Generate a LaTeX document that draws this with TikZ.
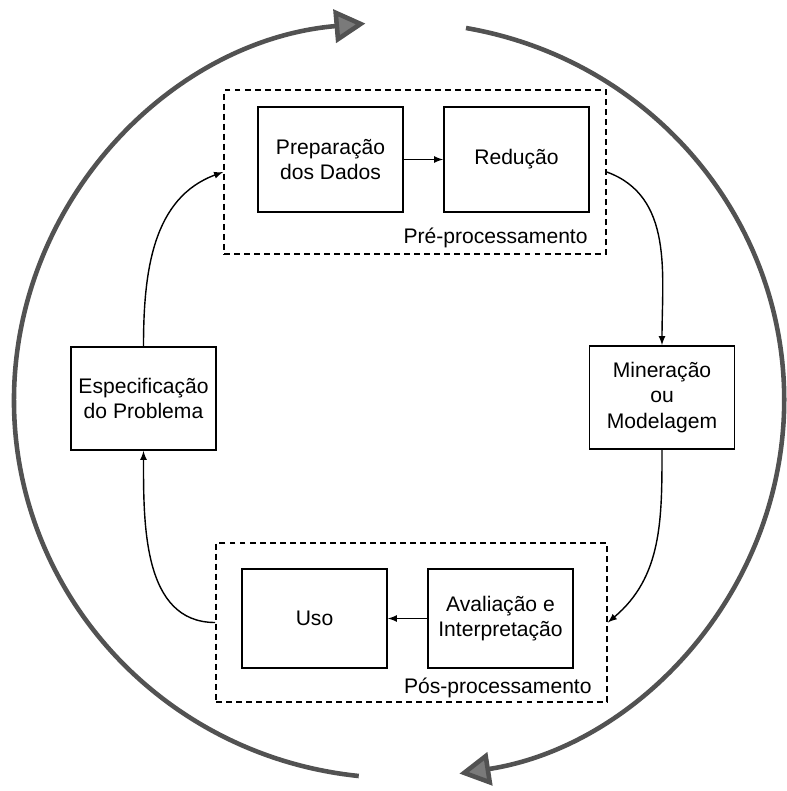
\documentclass[tikz,border=0pt]{standalone}
\usepackage{fontspec}
\setmainfont{Liberation Sans}
\usetikzlibrary{
    arrows,
    arrows.meta,
    positioning
}

\begin{document}
\begin{tikzpicture}[
    etapa/.style={draw, line width=0.95pt, minimum width=2.9cm, minimum height=2.06cm, align=center, font=\fontsize{12}{14.5}\selectfont},
    fase/.style={draw, dash pattern=on 3.4pt off 2.3pt, line width=0.9pt},
    rotulo/.style={font=\fontsize{12}{14.5}\selectfont, anchor=base east},
    ciclo/.style={draw=black!68, line width=2.6pt, -{Triangle[length=0.62cm, width=0.66cm, fill=black!52]}}
]
    \useasboundingbox (0, 0) rectangle (15.72, -15.82);
    % grandes setas do ciclo
    \coordinate (basel) at (7.175, -15.52);
    \coordinate (topor) at (9.32, -0.56);
    \draw[ciclo] (basel) arc[start angle=264, end angle=95, x radius=7.7cm, y radius=7.56cm];
    \draw[ciclo] (topor) arc[start angle=80, end angle=-81, x radius=7.7cm, y radius=7.56cm];
    % pre-processamento
    \node[fase, minimum width=7.64cm, minimum height=3.28cm] (pre) at (8.30, -3.44) {};
    \node[etapa, minimum height=2.1cm] (prep) at (6.61, -3.19) {Preparação\\dos Dados};
    \node[etapa, minimum height=2.1cm] (red) at (10.33, -3.19) {Redução};
    \node[rotulo] (prelbl) at ([xshift=-0.26cm, yshift=0.22cm] pre.south east) {Pré-processamento};
    % laterais
    \node[etapa] (min) at (13.24, -7.95) {Mineração\\ou\\Modelagem};
    \node[etapa] (esp) at (2.87, -7.97) {Especificação\\do Problema};
    % pos-processamento
    \node[fase, minimum width=7.82cm, minimum height=3.18cm] (pos) at (8.23, -12.45) {};
    \node[etapa, minimum height=1.98cm] (uso) at (6.29, -12.37) {Uso};
    \node[etapa, minimum height=1.98cm] (ava) at (10.01, -12.37) {Avaliação e\\Interpretação};
    \node[rotulo] (poslbl) at ([xshift=-0.2cm, yshift=0.18cm] pos.south east) {Pós-processamento};
    \draw[line width=0.8pt]
    (prep) edge[-latex] (red)
    (ava) edge[-latex] (uso)
    (pre.east) edge[-latex, out=-20, in=90] (min.north)
    (min.south) edge[-latex, out=-90, in=40] (pos.east)
    (pos.west) edge[-latex, out=180, in=-90] (esp.south)
    (esp.north) edge[-latex, out=90, in=200] (pre.west);
\end{tikzpicture}
\end{document}
